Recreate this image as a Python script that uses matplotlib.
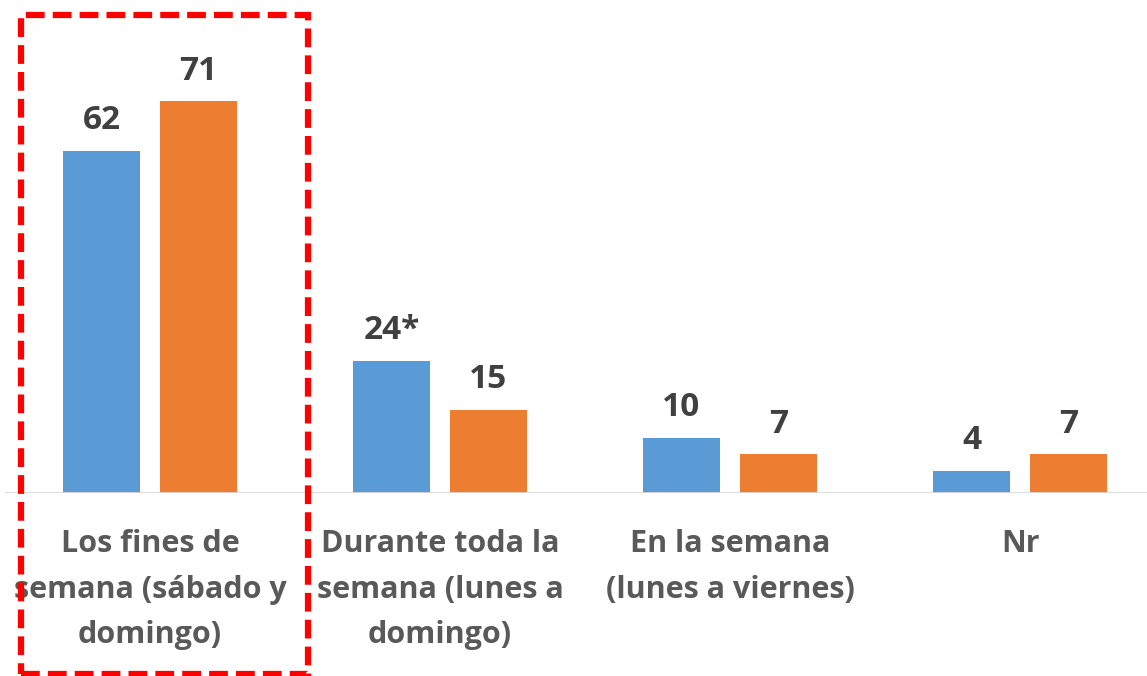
import matplotlib.pyplot as plt
from matplotlib.patches import Rectangle

categories = ["Los fines de\nsemana (sábado y\ndomingo)",
              "Durante toda la\nsemana (lunes a\ndomingo)",
              "En la semana\n(lunes a viernes)",
              "Nr"]
serie_a = [62, 24, 10, 4]
serie_b = [71, 15, 7, 7]
labels_a = ["62", "24*", "10", "4"]
labels_b = ["71", "15", "7", "7"]

W, H = 1147, 676
fig = plt.figure(figsize=(W / 100, H / 100), dpi=100)
# axes: x from 5 px to right edge, baseline at 493 px from top
ax = fig.add_axes([5 / W, (H - 493) / H, 1 - 5 / W, 493 / H])

x = list(range(len(categories)))
bw = 0.2655
off = 0.167
ax.bar([i - off for i in x], serie_a, bw, color="#5B9BD5")
ax.bar([i + off for i in x], serie_b, bw, color="#ED7D31")

font = "Open Sans"
for i in x:
    ax.text(i - off, serie_a[i] + 2.5, labels_a[i], ha="center", va="bottom",
            fontsize=24, fontweight="bold", color="#404040", family=font)
    ax.text(i + off, serie_b[i] + 2.5, labels_b[i], ha="center", va="bottom",
            fontsize=24, fontweight="bold", color="#404040", family=font)
    ax.text(i, -6.6, categories[i], ha="center", va="top", fontsize=22,
            fontweight="bold", color="#595959", family=font,
            linespacing=1.66)

ax.set_xlim(-0.5, -0.5 + (W - 5) / 290)
ax.set_ylim(0, 493 / 5.516)
ax.axhline(0, color="#D9D9D9", lw=2)
ax.axis("off")

box = Rectangle((21 / W, (H - 674) / H), (308 - 21) / W, (674 - 15) / H,
                transform=fig.transFigure, fill=False, edgecolor="#FF0000",
                lw=4.5, linestyle=(0, (3, 1.3)), clip_on=False)
fig.patches.append(box)

fig.savefig("out.png", dpi=100)
